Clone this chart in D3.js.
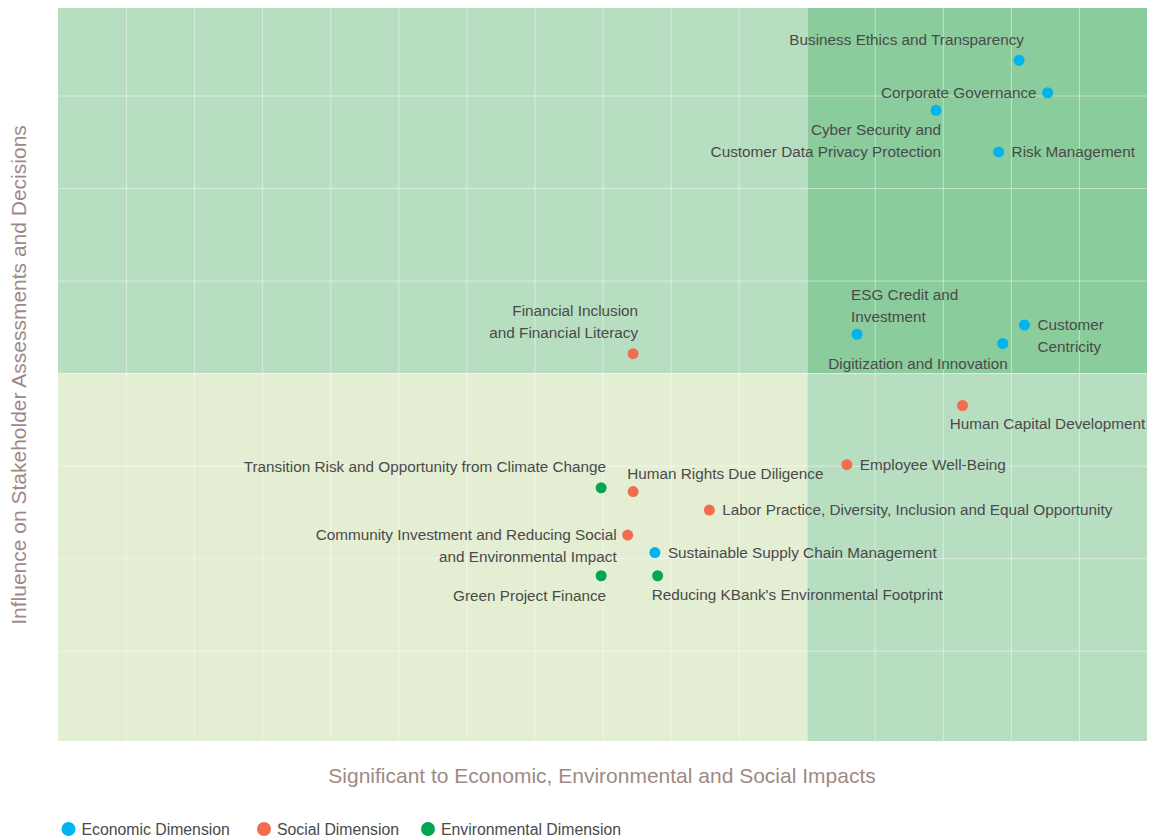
<!DOCTYPE html>
<html>
<head>
<meta charset="utf-8">
<script src="https://cdn.jsdelivr.net/npm/d3@7"></script>
<style>
  html, body { margin: 0; padding: 0; background: #ffffff; }
  svg { display: block; }
</style>
</head>
<body>
<svg id="chart" width="1151" height="838"></svg>
<script>
// ---------------- DATA ----------------
const topics = [
  "Business Ethics and Transparency",
  "Corporate Governance",
  "Cyber Security and|Customer Data Privacy Protection",
  "Risk Management",
  "ESG Credit and|Investment",
  "Customer|Centricity",
  "Digitization and Innovation",
  "Human Capital Development",
  "Employee Well-Being",
  "Financial Inclusion|and Financial Literacy",
  "Transition Risk and Opportunity from Climate Change",
  "Human Rights Due Diligence",
  "Labor Practice, Diversity, Inclusion and Equal Opportunity",
  "Community Investment and Reducing Social|and Environmental Impact",
  "Sustainable Supply Chain Management",
  "Green Project Finance",
  "Reducing KBank's Environmental Footprint"
];
const dimension = [
  "Economic", "Economic", "Economic", "Economic", "Economic", "Economic", "Economic",
  "Social", "Social", "Social", "Environmental", "Social", "Social", "Social",
  "Economic", "Environmental", "Environmental"
];
// Significance to economic, environmental and social impacts (x)
const significance = [14.12, 14.54, 12.90, 13.82, 11.74, 14.20, 13.88, 13.29, 11.59,
                      8.45, 7.98, 8.45, 9.57, 8.37, 8.77, 7.98, 8.81];
// Influence on stakeholder assessments and decisions (y)
const influence = [7.38, 7.03, 6.84, 6.39, 4.42, 4.52, 4.32, 3.65, 3.01,
                   4.21, 2.76, 2.72, 2.52, 2.25, 2.06, 1.81, 1.81];

const legendLabels = ["Economic Dimension", "Social Dimension", "Environmental Dimension"];
const dimensionKeys = ["Economic", "Social", "Environmental"];
const xTicks = [1, 2, 3, 4, 5, 6, 7, 8, 9, 10, 11, 12, 13, 14, 15];
const yTicks = [1, 2, 3, 4, 5, 6, 7];
const xThreshold = 11;
const yThreshold = 4;
const xTitle = "Significant to Economic, Environmental and Social Impacts";
const yTitle = "Influence on Stakeholder Assessments and Decisions";

// label placement (styling only)
const labelPlacement = [
  "top-end", "left", "bottom-end", "right", "top-start", "right", "bottom-end",
  "bottom-start", "right", "top-end", "top-end", "top-start", "right", "left",
  "right", "bottom-end", "bottom-start"
];

// ---------------- STYLE ----------------
const colors = { Economic: "#00b4ef", Social: "#f26c4f", Environmental: "#00a651" };
const plot = { left: 58, right: 1147, top: 8, bottom: 741 };
const labelFont = "Liberation Sans, Arial, Helvetica, sans-serif";

const svg = d3.select("#chart");

const x = d3.scaleLinear().domain([0, 16]).range([plot.left, plot.right]);
const y = d3.scaleLinear().domain([0.024, 7.946]).range([plot.bottom, plot.top]);

// quadrants
const quads = [
  { x0: 0, x1: xThreshold, y0: yThreshold, y1: 7.946, fill: "#b8dec2" },
  { x0: xThreshold, x1: 16, y0: yThreshold, y1: 7.946, fill: "#8acc9b" },
  { x0: 0, x1: xThreshold, y0: 0.024, y1: yThreshold, fill: "#e4eed3" },
  { x0: xThreshold, x1: 16, y0: 0.024, y1: yThreshold, fill: "#b8dec2" }
];
svg.append("g").selectAll("rect").data(quads).join("rect")
  .attr("x", d => x(d.x0))
  .attr("y", d => y(d.y1))
  .attr("width", d => x(d.x1) - x(d.x0))
  .attr("height", d => y(d.y0) - y(d.y1))
  .attr("fill", d => d.fill);

// gridlines via axes
const gx = svg.append("g")
  .attr("transform", `translate(0,${plot.bottom})`)
  .call(d3.axisBottom(x).tickValues(xTicks).tickSize(-(plot.bottom - plot.top)).tickFormat(""));
const gy = svg.append("g")
  .attr("transform", `translate(${plot.left},0)`)
  .call(d3.axisLeft(y).tickValues(yTicks).tickSize(-(plot.right - plot.left)).tickFormat(""));
[gx, gy].forEach(g => {
  g.select(".domain").remove();
  g.selectAll(".tick line").attr("stroke", "#ffffff").attr("stroke-opacity", 0.45).attr("stroke-width", 1);
});

// points
const pts = topics.map((t, i) => ({
  lines: t.split("|"), dim: dimension[i], xv: significance[i], yv: influence[i], pos: labelPlacement[i]
}));

svg.append("g").selectAll("circle").data(pts).join("circle")
  .attr("cx", d => x(d.xv))
  .attr("cy", d => y(d.yv))
  .attr("r", 5.5)
  .attr("fill", d => colors[d.dim]);

const lineH = 22;
const lg = svg.append("g")
  .attr("font-family", labelFont)
  .attr("font-size", 15.3)
  .attr("fill", "#4a4a4a");

pts.forEach(d => {
  const cx = x(d.xv), cy = y(d.yv) - 1;
  let anchor, dx, firstDy;
  const n = d.lines.length;
  switch (d.pos) {
    case "right": anchor = "start"; dx = 13; firstDy = 0; break;
    case "left": anchor = "end"; dx = -11; firstDy = 0; break;
    case "top-end": anchor = "end"; dx = 5; firstDy = -20.5 - (n - 1) * lineH; break;
    case "top-start": anchor = "start"; dx = -6; firstDy = -17.5 - (n - 1) * lineH; break;
    case "bottom-end": anchor = "end"; dx = 5; firstDy = 20; break;
    case "bottom-start": anchor = "start"; dx = -6; firstDy = 19; break;
  }
  const t = lg.append("text")
    .attr("text-anchor", anchor)
    .attr("dominant-baseline", "central");
  d.lines.forEach((ln, j) => {
    t.append("tspan")
      .attr("x", cx + dx)
      .attr("y", cy + firstDy + j * lineH)
      .text(ln);
  });
  // keep labels inside the plot area
  const bb = t.node().getBBox();
  const overflow = bb.x + bb.width - (plot.right - 1);
  if (overflow > 0) t.attr("transform", `translate(${-overflow},0)`);
});

// axis titles
svg.append("text")
  .attr("x", 602)
  .attr("y", 775)
  .attr("text-anchor", "middle")
  .attr("dominant-baseline", "central")
  .attr("font-family", labelFont)
  .attr("font-size", 21)
  .attr("fill", "#9e8a84")
  .text(xTitle);

svg.append("text")
  .attr("transform", `translate(18,375) rotate(-90)`)
  .attr("text-anchor", "middle")
  .attr("dominant-baseline", "central")
  .attr("font-family", labelFont)
  .attr("font-size", 21)
  .attr("fill", "#9e8a84")
  .text(yTitle);

// legend
const legend = svg.append("g").attr("font-family", labelFont).attr("font-size", 15.8).attr("fill", "#4a4a4a");
const legendX = [68.5, 264, 428];
legendLabels.forEach((lbl, i) => {
  const g = legend.append("g").attr("transform", `translate(${legendX[i]},829)`);
  g.append("circle").attr("r", 7).attr("fill", colors[dimensionKeys[i]]);
  g.append("text").attr("x", 13).attr("dominant-baseline", "central").text(lbl);
});
</script>
</body>
</html>
